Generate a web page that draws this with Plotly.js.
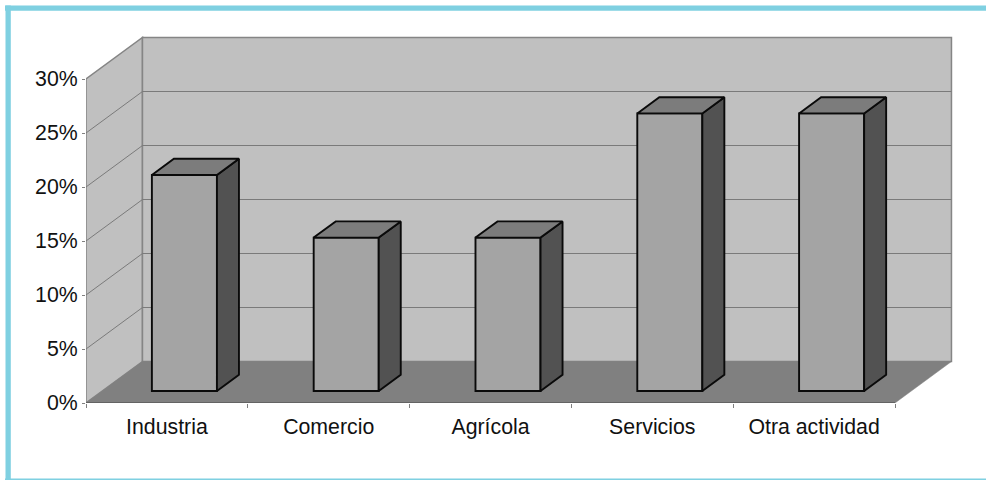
<!DOCTYPE html>
<html>
<head>
<meta charset="utf-8">
<script src="https://cdn.plot.ly/plotly-3.0.1.min.js"></script>
<style>html,body{margin:0;padding:0;background:#fff}#c{width:986px;height:480px}</style>
</head>
<body>
<div id="c"></div>
<script>
const categories = ["Industria", "Comercio", "Agrícola", "Servicios", "Otra actividad"];
const values = [20, 14.2, 14.2, 25.7, 25.7];
const yTicks = [0, 5, 10, 15, 20, 25, 30];

// Oblique projection of the chart depth into axis units
const depthX = 0.349, depthY = 3.843;
const barWidth = 0.402, depthFront = 0.29, depthBack = 0.68, barShift = 0.007;
const xMax = categories.length, yMax = 30;
const P = (x, v, z) => [x + z * depthX, v + z * depthY];

function poly(points) {
  return 'M' + points.map(p => p.join(',')).join('L') + 'Z';
}
const wallColor = '#c0c0c0', floorColor = '#808080', edge = '#858585';
const shapes = [];
function addShape(points, fill, lineColor, w) {
  shapes.push({type: 'path', xref: 'x', yref: 'y', layer: 'below', path: poly(points),
    fillcolor: fill, line: {color: lineColor, width: w}});
}
addShape([P(0, 0, 0), P(0, yMax, 0), P(0, yMax, 1), P(0, 0, 1)], wallColor, edge, 1.5);
addShape([P(0, 0, 1), P(0, yMax, 1), P(xMax, yMax, 1), P(xMax, 0, 1)], wallColor, edge, 1.5);
addShape([P(0, 0, 0), P(xMax, 0, 0), P(xMax, 0, 1), P(0, 0, 1)], floorColor, floorColor, 0.5);
yTicks.slice(1, -1).forEach(v => {
  const a = P(0, v, 0), b = P(0, v, 1), c = P(xMax, v, 1);
  shapes.push({type: 'path', xref: 'x', yref: 'y', layer: 'below',
    path: 'M' + a.join(',') + 'L' + b.join(',') + 'L' + c.join(','),
    line: {color: '#7a7a7a', width: 1}});
});
// coloured frame around the page
const frame = '#7fd0e1';
const plotW = 870, plotH = 367;
[[5, 5.5, 986, 10.8], [5.5, 5.5, 10.8, 480], [5, 478.6, 986, 480]].forEach(r => {
  shapes.push({type: 'rect', xref: 'paper', yref: 'paper', layer: 'below', line: {width: 0}, fillcolor: frame,
    x0: (r[0] - 86) / plotW, x1: (r[2] - 86) / plotW, y0: (403 - r[1]) / plotH, y1: (403 - r[3]) / plotH});
});

const barCentres = categories.map((_, i) => i + 0.5 + barShift + depthFront * depthX);
const bars = {
  type: 'bar', x: barCentres, y: values, base: values.map(() => depthFront * depthY),
  width: barWidth, marker: {color: '#a4a4a4', line: {color: '#0a0a0a', width: 1.9}},
  hoverinfo: 'skip', showlegend: false
};
const sideX = [], sideY = [], topX = [], topY = [];
values.forEach((v, i) => {
  const l = i + 0.5 + barShift - barWidth / 2, r = i + 0.5 + barShift + barWidth / 2;
  [P(r, 0, depthFront), P(r, v, depthFront), P(r, v, depthBack), P(r, 0, depthBack), P(r, 0, depthFront)]
    .forEach(p => { sideX.push(p[0]); sideY.push(p[1]); });
  sideX.push(null); sideY.push(null);
  [P(l, v, depthFront), P(r, v, depthFront), P(r, v, depthBack), P(l, v, depthBack), P(l, v, depthFront)]
    .forEach(p => { topX.push(p[0]); topY.push(p[1]); });
  topX.push(null); topY.push(null);
});
const line = {color: '#0a0a0a', width: 1.9};
const sides = {type: 'scatter', mode: 'lines', x: sideX, y: sideY, fill: 'toself', fillcolor: '#525252',
  line, hoverinfo: 'skip', showlegend: false, cliponaxis: false};
const tops = {type: 'scatter', mode: 'lines', x: topX, y: topY, fill: 'toself', fillcolor: '#7c7c7c',
  line, hoverinfo: 'skip', showlegend: false, cliponaxis: false};
const axisLine = {type: 'scatter', mode: 'lines', x: [0, xMax], y: [0, 0], cliponaxis: false,
  line: {color: '#5a5a5a', width: 1.3}, hoverinfo: 'skip', showlegend: false};

const font = {family: '"Liberation Sans", Arial, sans-serif', size: 21.3, color: '#111'};
Plotly.newPlot('c', [bars, sides, tops, axisLine], {
  width: 986, height: 480, autosize: false,
  margin: {l: 86, r: 30, t: 36, b: 77, pad: 0},
  paper_bgcolor: '#fff', plot_bgcolor: 'rgba(0,0,0,0)',
  font, showlegend: false, shapes,
  xaxis: {
    range: [0, plotW / 161.8], showgrid: false, zeroline: false, showline: false,
    tickmode: 'array', tickvals: categories.map((_, i) => i + 0.5), ticktext: categories,
    ticks: '', tickfont: font, tickangle: 0, ticklabelstandoff: 9, fixedrange: true,
    minor: {tickmode: 'array', tickvals: categories.map((_, i) => i).concat([xMax]),
      ticks: 'outside', ticklen: 4, tickwidth: 1, tickcolor: '#808080', showgrid: false}
  },
  yaxis: {
    range: [0, plotH / 10.8], showgrid: false, zeroline: false, showline: false,
    tickmode: 'array', tickvals: yTicks, ticktext: yTicks.map(v => v + '%'),
    ticks: 'outside', ticklen: 3, tickwidth: 1, tickcolor: '#808080', tickfont: font, fixedrange: true
  }
}, {displayModeBar: false, staticPlot: true});
</script>
</body>
</html>
